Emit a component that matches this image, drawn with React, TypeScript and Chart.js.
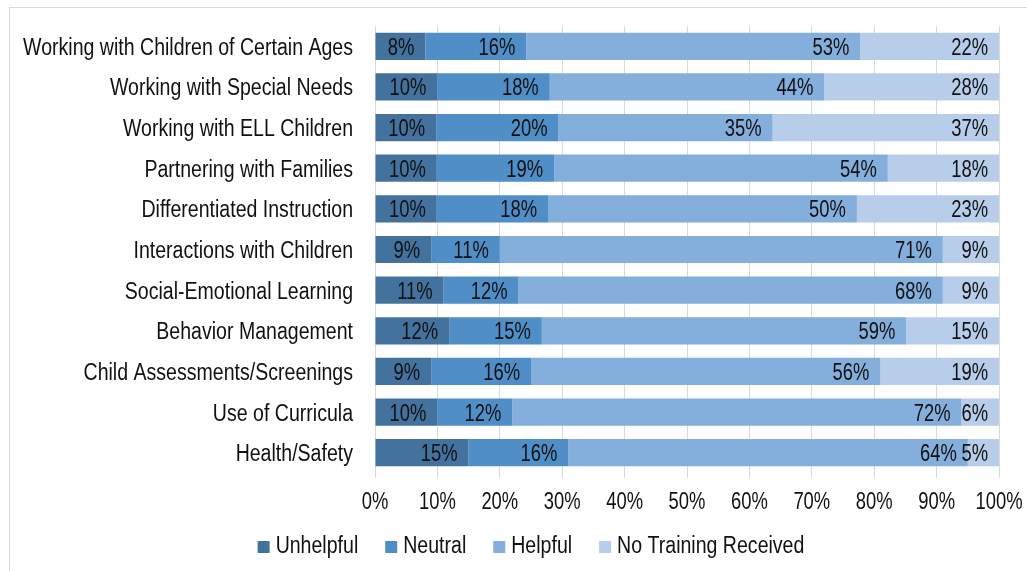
import React, { useEffect, useRef } from "react";
import { Chart, registerables } from "chart.js";

Chart.register(...registerables);

const categories = [
  "Working with Children of Certain Ages",
  "Working with Special Needs",
  "Working with ELL Children",
  "Partnering with Families",
  "Differentiated Instruction",
  "Interactions with Children",
  "Social-Emotional Learning",
  "Behavior Management",
  "Child Assessments/Screenings",
  "Use of Curricula",
  "Health/Safety",
];

const unhelpful = [8, 10, 10, 10, 10, 9, 11, 12, 9, 10, 15];
const neutral = [16, 18, 20, 19, 18, 11, 12, 15, 16, 12, 16];
const helpful = [53, 44, 35, 54, 50, 71, 68, 59, 56, 72, 64];
const noTraining = [22, 28, 37, 18, 23, 9, 9, 15, 19, 6, 5];

const seriesNames = ["Unhelpful", "Neutral", "Helpful", "No Training Received"];
const seriesColors = ["#44729e", "#4f8ec7", "#84aedb", "#b8cde9"];
const xTicks = [0, 10, 20, 30, 40, 50, 60, 70, 80, 90, 100];

const FONT = "'Liberation Sans', Arial, sans-serif";
const FONT_PX = 23;
const TEXT = "#111111";
const WORD_SCALE = 0.85; // emulate a narrow face
const NUM_SCALE = 0.8;

function narrowText(
  ctx: CanvasRenderingContext2D,
  text: string,
  x: number,
  y: number,
  align: CanvasTextAlign,
  sx: number
) {
  ctx.save();
  ctx.translate(x, y);
  ctx.scale(sx, 1);
  ctx.textAlign = align;
  ctx.textBaseline = "alphabetic";
  ctx.fillText(text, 0, 0);
  ctx.restore();
}

export default function App() {
  const ref = useRef<HTMLCanvasElement | null>(null);

  useEffect(() => {
    if (!ref.current) return;
    const raw = [unhelpful, neutral, helpful, noTraining];
    const totals = categories.map((_, i) => raw.reduce((s, arr) => s + arr[i], 0));

    const textPlugin = {
      id: "narrowText",
      afterDraw(chart: any) {
        const ctx: CanvasRenderingContext2D = chart.ctx;
        const xs = chart.scales.x;
        const ys = chart.scales.y;
        const area = chart.chartArea;
        ctx.save();
        ctx.font = `${FONT_PX}px ${FONT}`;
        ctx.fillStyle = TEXT;

        // category labels
        categories.forEach((c, i) => {
          const y = ys.getPixelForValue(i);
          narrowText(ctx, c, area.left - 22, y + 8.5, "right", WORD_SCALE);
        });

        // x tick labels
        xTicks.forEach((v) => {
          const x = xs.getPixelForValue(v);
          narrowText(ctx, `${v}%`, x, area.bottom + 36, "center", NUM_SCALE);
        });

        // segment labels
        chart.data.datasets.forEach((ds: any, di: number) => {
          const meta = chart.getDatasetMeta(di);
          meta.data.forEach((el: any, i: number) => {
            narrowText(ctx, `${ds.rawValues[i]}%`, el.x - 11, el.y + 8.5, "right", NUM_SCALE);
          });
        });

        // legend
        const box = 12;
        const boxGap = 6;
        const itemGap = 27;
        const widths = seriesNames.map((n) => ctx.measureText(n).width * WORD_SCALE);
        const total =
          widths.reduce((s, w) => s + w + box + boxGap, 0) + itemGap * (seriesNames.length - 1);
        let lx = 521 - total / 2;
        const baseY = area.bottom + 80;
        seriesNames.forEach((n, k) => {
          ctx.fillStyle = seriesColors[k];
          ctx.fillRect(lx, baseY - 12, box, box);
          ctx.fillStyle = TEXT;
          narrowText(ctx, n, lx + box + boxGap, baseY, "left", WORD_SCALE);
          lx += box + boxGap + widths[k] + itemGap;
        });
        ctx.restore();
      },
    };

    const chart = new Chart(ref.current, {
      type: "bar",
      data: {
        labels: categories,
        datasets: raw.map((arr, k) => ({
          label: seriesNames[k],
          data: arr.map((v, i) => (v / totals[i]) * 100),
          rawValues: arr,
          backgroundColor: seriesColors[k],
          borderWidth: 0,
          barPercentage: 0.67,
          categoryPercentage: 1,
        })) as any,
      },
      options: {
        indexAxis: "y",
        responsive: false,
        animation: false,
        layout: { padding: { top: 18, right: 28, bottom: 0, left: 0 } },
        plugins: {
          legend: { display: false },
          tooltip: { enabled: false },
        },
        scales: {
          x: {
            stacked: true,
            min: 0,
            max: 100,
            afterFit: (s: any) => {
              s.height = 98;
            },
            afterBuildTicks: (s: any) => {
              s.ticks = xTicks.map((v) => ({ value: v }));
            },
            grid: { color: "#d9d9d9", lineWidth: 1, tickLength: 5, drawTicks: true },
            border: { display: false },
            ticks: { display: false },
          },
          y: {
            stacked: true,
            afterFit: (s: any) => {
              s.width = 365;
            },
            grid: { display: false, drawTicks: false },
            border: { display: false },
            ticks: { display: false },
          },
        },
      },
      plugins: [textPlugin],
    });
    return () => chart.destroy();
  }, []);

  return (
    <div
      style={{
        position: "absolute",
        left: 9,
        top: 7,
        width: 1018,
        height: 564,
        borderLeft: "1px solid #d9d9d9",
        borderTop: "1px solid #d9d9d9",
        overflow: "hidden",
        background: "#fff",
      }}
    >
      <canvas ref={ref} width={1017} height={563} style={{ display: "block" }} />
    </div>
  );
}
